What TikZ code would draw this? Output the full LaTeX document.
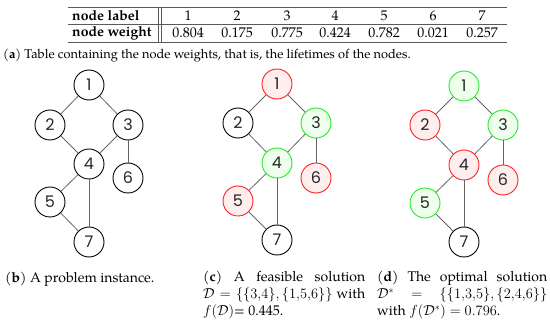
\documentclass[tikz,border=0pt]{standalone}
\usepackage{fontspec}
\setmainfont{TeX Gyre Pagella}
\newfontfamily\nodefont{Poppins}
\definecolor{nred}{RGB}{255,30,30}
\definecolor{nredfill}{RGB}{255,238,238}
\definecolor{ngreen}{RGB}{30,235,30}
\definecolor{ngreenfill}{RGB}{238,255,238}
\definecolor{rulegray}{RGB}{90,90,90}
\tikzset{
  gn/.style={circle, draw=black, line width=0.9pt, minimum size=30pt, inner sep=0pt,
    font=\nodefont\fontsize{16}{16}\selectfont, text=black!85},
  rn/.style={gn, draw=nred, fill=nredfill},
  grn/.style={gn, draw=ngreen, fill=ngreenfill},
  ed/.style={draw=black!60, line width=0.8pt},
  tabtxt/.style={inner sep=0pt, font=\fontsize{14}{16}\selectfont},
  capt/.style={inner sep=0pt, align=left, font=\fontsize{14}{17}\selectfont},
  trule/.style={draw=rulegray, line width=0.9pt}
}
\begin{document}
\begin{tikzpicture}[x=1pt,y=-1pt]
\useasboundingbox (0,0) rectangle (550,326);
% ---------- table ----------
\coordinate (tl) at (68,7);  \coordinate (tr) at (507,7);
\coordinate (ml) at (68,24); \coordinate (mr) at (507,24);
\coordinate (bl) at (68,42); \coordinate (br) at (507,42);
\coordinate (v1t) at (158.5,7); \coordinate (v1b) at (158.5,42);
\coordinate (v2t) at (161.5,7); \coordinate (v2b) at (161.5,42);
\draw[trule] (tl) -- (tr);
\draw[trule, line width=0.6pt] (ml) -- (mr);
\draw[trule] (bl) -- (br);
\draw[trule, line width=0.6pt] (v1t) -- (v1b);
\draw[trule, line width=0.6pt] (v2t) -- (v2b);
\node[tabtxt, anchor=west] (hl) at (72,15.5) {\textbf{node label}};
\node[tabtxt, anchor=west] (hw) at (72,33) {\textbf{node weight}};
\foreach \i/\x/\w in {1/188/0.804, 2/237/0.175, 3/287/0.775, 4/335/0.424, 5/384/0.782, 6/433/0.021, 7/482/0.257} {
  \node[tabtxt] (l\i) at (\x,15.5) {\i};
  \node[tabtxt] (w\i) at (\x,33) {\w};
}
\node[capt, anchor=west, font=\fontsize{12.8}{15}\selectfont] (capa) at (3,56) {(\textbf{a}) Table containing the node weights, that is, the lifetimes of the nodes.};
% ---------- graph b ----------
\node[gn] (b1) at (89,85) {1};
\node[gn] (b2) at (50,125) {2};
\node[gn] (b3) at (128,125) {3};
\node[gn] (b4) at (89,164) {4};
\node[gn] (b6) at (128,178) {6};
\node[gn] (b5) at (50,202) {5};
\node[gn] (b7) at (89,242) {7};
\draw[ed] (b1) -- (b2); \draw[ed] (b1) -- (b3);
\draw[ed] (b2) -- (b4); \draw[ed] (b3) -- (b4);
\draw[ed] (b3) -- (b6); \draw[ed] (b4) -- (b5);
\draw[ed] (b4) -- (b7); \draw[ed] (b5) -- (b7);
% ---------- graph c ----------
\node[rn]  (c1) at (277,84) {1};
\node[gn]  (c2) at (238,123) {2};
\node[grn] (c3) at (316,123) {3};
\node[grn] (c4) at (277,163) {4};
\node[rn]  (c6) at (316,178) {6};
\node[rn]  (c5) at (238,201) {5};
\node[gn]  (c7) at (277,240) {7};
\draw[ed] (c1) -- (c2); \draw[ed] (c1) -- (c3);
\draw[ed] (c2) -- (c4); \draw[ed] (c3) -- (c4);
\draw[ed] (c3) -- (c6); \draw[ed] (c4) -- (c5);
\draw[ed] (c4) -- (c7); \draw[ed] (c5) -- (c7);
% ---------- graph d ----------
\node[grn] (d1) at (464,86) {1};
\node[rn]  (d2) at (425,125) {2};
\node[grn] (d3) at (503,125) {3};
\node[rn]  (d4) at (464,165) {4};
\node[rn]  (d6) at (503,180) {6};
\node[grn] (d5) at (425,203) {5};
\node[gn]  (d7) at (464,242) {7};
\draw[ed] (d1) -- (d2); \draw[ed] (d1) -- (d3);
\draw[ed] (d2) -- (d4); \draw[ed] (d3) -- (d4);
\draw[ed] (d3) -- (d6); \draw[ed] (d4) -- (d5);
\draw[ed] (d4) -- (d7); \draw[ed] (d5) -- (d7);
% ---------- captions ----------
\node[capt, anchor=west] (capb) at (5,279) {(\textbf{b}) A problem instance.};
\node[capt, anchor=north west] (capc) at (203,271) {%
  \makebox[162pt][s]{(\textbf{c}) A feasible solution}\\
  \makebox[162pt][s]{$\mathcal{D} = \{\{3{,}4\},\{1{,}5{,}6\}\}$ with}\\
  $f(\mathcal{D})$= 0.445.};
\node[capt, anchor=north west] (capd) at (377,271) {%
  \makebox[170pt][s]{(\textbf{d}) The optimal solution}\\
  \makebox[170pt][s]{$\mathcal{D}^* = \{\{1{,}3{,}5\},\{2{,}4{,}6\}\}$}\\
  with $f(\mathcal{D}^*) = 0.796$.};
\end{tikzpicture}
\end{document}
